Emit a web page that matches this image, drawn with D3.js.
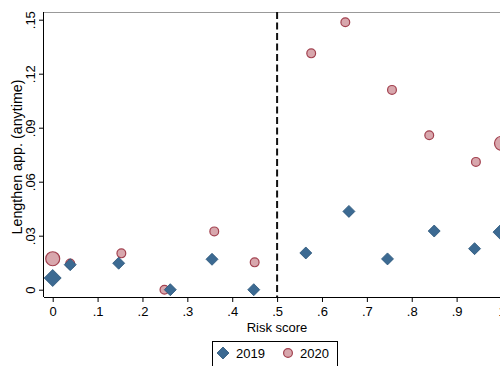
<!DOCTYPE html>
<html>
<head>
<meta charset="utf-8">
<script src="https://cdn.jsdelivr.net/npm/d3@7"></script>
<style>
  html, body { margin: 0; padding: 0; background: #fff; }
  svg { display: block; font-family: "Liberation Sans", Arial, sans-serif; }
</style>
</head>
<body>
<svg id="chart" width="500" height="366"></svg>
<script>
// Risk score bins (x) and share lengthening appointments (y), by year
const risk2019 = [0, 0.039, 0.147, 0.262, 0.355, 0.448, 0.564, 0.66, 0.746, 0.85, 0.94, 1.0];
const val2019  = [0.0065, 0.0139, 0.0147, 0, 0.0169, 0, 0.0204, 0.0435, 0.0171, 0.0326, 0.0228, 0.032];
const big2019  = [true, false, false, false, false, false, false, false, false, false, false, true];

const risk2020 = [0, 0.039, 0.153, 0.249, 0.36, 0.45, 0.576, 0.652, 0.756, 0.839, 0.943, 1.0];
const val2020  = [0.0172, 0.0145, 0.0202, 0, 0.0324, 0.0152, 0.1313, 0.1486, 0.111, 0.0858, 0.071, 0.0813];
const big2020  = [true, false, false, false, false, false, false, false, false, false, false, true];

const xTicks = [0, 0.1, 0.2, 0.3, 0.4, 0.5, 0.6, 0.7, 0.8, 0.9, 1];
const yTicks = [0, 0.03, 0.06, 0.09, 0.12, 0.15];
const cutoff = 0.5;

const svg = d3.select("#chart");
const plot = { left: 44, top: 12, right: 512, bottom: 297 };

const x = d3.scaleLinear().domain([0, 1]).range([52.7, 501.5]);
const y = d3.scaleLinear().domain([0, 0.15]).range([289.7, 19.7]);

const fmtX = d => d === 0 ? "0" : (d === 1 ? "1" : d3.format(".1f")(d).replace(/^0/, ""));
const fmtY = d => d === 0 ? "0" : d3.format(".2f")(d).replace(/^0/, "");
const tickFont = 13;

// Top frame line
svg.append("line")
  .attr("x1", plot.left).attr("x2", 500)
  .attr("y1", plot.top + 0.5).attr("y2", plot.top + 0.5)
  .attr("stroke", "#999").attr("stroke-width", 1.2);

// Bottom axis
const gx = svg.append("g").attr("transform", `translate(0,${plot.bottom})`)
  .call(d3.axisBottom(x).tickValues(xTicks).tickFormat(fmtX).tickSize(5).tickSizeOuter(0).tickPadding(5));
gx.select(".domain").attr("d", `M${plot.left},0.5H${plot.right}`).attr("stroke", "#000");
gx.selectAll("text").attr("font-size", tickFont).attr("fill", "#000")
  .attr("font-family", "'Liberation Sans', Arial, sans-serif");
gx.selectAll(".tick line").attr("stroke", "#000");

// Left axis
const gy = svg.append("g").attr("transform", `translate(${plot.left},0)`)
  .call(d3.axisLeft(y).tickValues(yTicks).tickFormat(fmtY).tickSize(5).tickSizeOuter(0));
gy.select(".domain").attr("d", `M-0.5,${plot.top}V${plot.bottom}`).attr("stroke", "#000");
gy.selectAll(".tick line").attr("stroke", "#000");
gy.selectAll("text")
  .attr("font-size", tickFont).attr("fill", "#000")
  .attr("font-family", "'Liberation Sans', Arial, sans-serif")
  .attr("text-anchor", "middle")
  .attr("dy", 0).attr("x", 0)
  .attr("transform", "translate(-13.5,0) rotate(-90)")
  .attr("dominant-baseline", "central");

// Axis titles
svg.append("text")
  .attr("x", 277).attr("y", 332)
  .attr("text-anchor", "middle").attr("font-size", 13)
  .text("Risk score");
svg.append("text")
  .attr("transform", `translate(22,157) rotate(-90)`)
  .attr("text-anchor", "middle").attr("font-size", 14.3)
  .text("Lengthen app. (anytime)");

// Cutoff line
svg.append("line")
  .attr("x1", x(cutoff)).attr("x2", x(cutoff))
  .attr("y1", plot.top).attr("y2", plot.bottom)
  .attr("stroke", "#111").attr("stroke-width", 2)
  .attr("stroke-dasharray", "7,3.5");

const diamondFill = "#3c6a92", diamondStroke = "#2a5478";
const circleFill = "#d8a7ad", circleStroke = "#a2414f";

const d2019 = risk2019.map((r, i) => ({ x: r, y: val2019[i], big: big2019[i] }));
const d2020 = risk2020.map((r, i) => ({ x: r, y: val2020[i], big: big2020[i] }));

// 2020 circles
svg.append("g").selectAll("circle").data(d2020).join("circle")
  .attr("cx", d => x(d.x)).attr("cy", d => y(d.y))
  .attr("r", d => d.big ? 7 : 4.4)
  .attr("fill", circleFill).attr("stroke", circleStroke).attr("stroke-width", 1.2);

// 2019 diamonds
const diamond = s => `M0,${-s}L${s},0L0,${s}L${-s},0Z`;
svg.append("g").selectAll("path").data(d2019).join("path")
  .attr("transform", d => `translate(${x(d.x)},${y(d.y)})`)
  .attr("d", d => diamond(d.big ? 8.5 : 6))
  .attr("fill", diamondFill).attr("stroke", diamondStroke).attr("stroke-width", 0.8);

// Legend
const lg = svg.append("g");
lg.append("rect").attr("x", 212.5).attr("y", 341.5).attr("width", 125).attr("height", 30)
  .attr("fill", "#fff").attr("stroke", "#000").attr("stroke-width", 1);
lg.append("path").attr("transform", "translate(223,353)").attr("d", diamond(6))
  .attr("fill", diamondFill).attr("stroke", diamondStroke).attr("stroke-width", 0.8);
lg.append("text").attr("x", 236).attr("y", 357.5).attr("font-size", 13).text("2019");
lg.append("circle").attr("cx", 288).attr("cy", 353).attr("r", 4.4)
  .attr("fill", circleFill).attr("stroke", circleStroke).attr("stroke-width", 1.2);
lg.append("text").attr("x", 300).attr("y", 357.5).attr("font-size", 13).text("2020");
</script>
</body>
</html>
